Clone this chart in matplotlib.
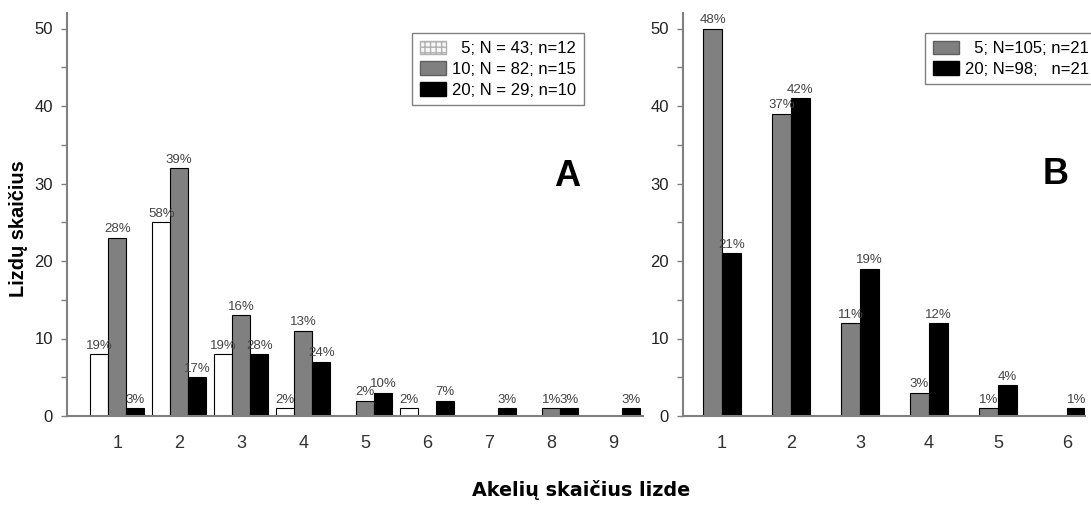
import matplotlib.pyplot as plt
from matplotlib.patches import Patch

# A: lizdų skaičius pagal akelių skaičių lizde
akeles_a = [1, 2, 3, 4, 5, 6, 7, 8, 9]
balti_a = [8, 25, 8, 1, 0, 1, 0, 0, 0]
pilki_a = [23, 32, 13, 11, 2, 0, 0, 1, 0]
juodi_a = [1, 5, 8, 7, 3, 2, 1, 1, 1]
legenda_a = ['  5; N = 43; n=12', '10; N = 82; n=15', '20; N = 29; n=10']

# B
akeles_b = [1, 2, 3, 4, 5, 6]
pilki_b = [50, 39, 12, 3, 1, 0]
juodi_b = [21, 41, 19, 12, 4, 1]
legenda_b = ['  5; N=105; n=21', '20; N=98;   n=21']

plt.rcParams['font.family'] = ['Liberation Sans', 'DejaVu Sans']
SIAURAS = ['Liberation Sans Narrow', 'Liberation Sans', 'DejaVu Sans']

fig = plt.figure(figsize=(10.91, 5.05), dpi=100)
W, H = 1091, 505


def asys(x0, x1, y0, y1):
    return fig.add_axes([x0 / W, 1 - y1 / H, (x1 - x0) / W, (y1 - y0) / H])


def stulpeliai(ax, x, reiksmes, poslinkis, plotis, spalva):
    viso = sum(reiksmes)
    for xi, v in zip(x, reiksmes):
        if v == 0:
            continue
        ax.bar(xi + poslinkis, v, plotis, color=spalva, edgecolor='black', linewidth=0.8)
        ax.text(xi + poslinkis, v + 0.3, f'{round(100 * v / viso)}%', ha='center', va='bottom',
                fontsize=9.5, color='#444444', family=SIAURAS)


def apipavidalinti(ax, xlim, akeles):
    ax.set_xlim(*xlim)
    ax.set_ylim(0, 52)
    for s in ('top', 'right'):
        ax.spines[s].set_visible(False)
    for s in ('left', 'bottom'):
        ax.spines[s].set_color('#808080')
        ax.spines[s].set_linewidth(1.5)
    ax.set_yticks(range(0, 51, 10))
    ax.set_yticks(range(5, 51, 10), minor=True)
    ax.tick_params(axis='y', which='both', length=4, width=1, color='#808080',
                   labelsize=12, labelcolor='#222222', pad=6)
    ax.set_xticks(akeles)
    ax.tick_params(axis='x', length=0, labelsize=13, labelcolor='#333333', pad=14)


# --- A ---
axA = asys(67, 643, 13, 416)
plotis_a = 0.29
stulpeliai(axA, akeles_a, balti_a, -plotis_a, plotis_a, 'white')
stulpeliai(axA, akeles_a, pilki_a, 0, plotis_a, '#808080')
stulpeliai(axA, akeles_a, juodi_a, plotis_a, plotis_a, 'black')
apipavidalinti(axA, (0.19, 9.48), akeles_a)

rankenos_a = [Patch(facecolor='#f6f6f6', edgecolor='#b0b0b0', hatch='+++'),
              Patch(facecolor='#808080', edgecolor='#606060'),
              Patch(facecolor='black', edgecolor='black')]
fig.legend(rankenos_a, legenda_a, loc='upper left', bbox_to_anchor=(412 / W, 1 - 33 / H),
           borderaxespad=0, fontsize=12, frameon=True, fancybox=False, framealpha=1,
           edgecolor='#808080', handlelength=1.6, handleheight=0.9, handletextpad=0.35,
           labelspacing=0.3, borderpad=0.45)
fig.text(567 / W, 1 - 177 / H, 'A', fontsize=26, fontweight='bold', ha='center', va='center')

# --- B ---
axB = asys(683, 1085, 13, 416)
plotis_b = 0.275
stulpeliai(axB, akeles_b, pilki_b, -plotis_b / 2, plotis_b, '#808080')
stulpeliai(axB, akeles_b, juodi_b, plotis_b / 2, plotis_b, 'black')
apipavidalinti(axB, (0.435, 6.26), akeles_b)

rankenos_b = [Patch(facecolor='#808080', edgecolor='#606060'),
              Patch(facecolor='black', edgecolor='black')]
fig.legend(rankenos_b, legenda_b, loc='upper left', bbox_to_anchor=(925 / W, 1 - 33 / H),
           borderaxespad=0, fontsize=12, frameon=True, fancybox=False, framealpha=1,
           edgecolor='#808080', handlelength=1.6, handleheight=0.9, handletextpad=0.35,
           labelspacing=0.3, borderpad=0.45)
fig.text(1056 / W, 1 - 175 / H, 'B', fontsize=26, fontweight='bold', ha='center', va='center')

# bendros ašių antraštės
fig.text(19 / W, 1 - 229 / H, 'Lizdų skaičius', rotation=90, fontsize=14.4, fontweight='bold',
         ha='center', va='center')
fig.text(581 / W, 1 - 490 / H, 'Akelių skaičius lizde', fontsize=13.8, fontweight='bold',
         family=['DejaVu Sans'], ha='center', va='center')

fig.savefig('out.png', dpi=100)
